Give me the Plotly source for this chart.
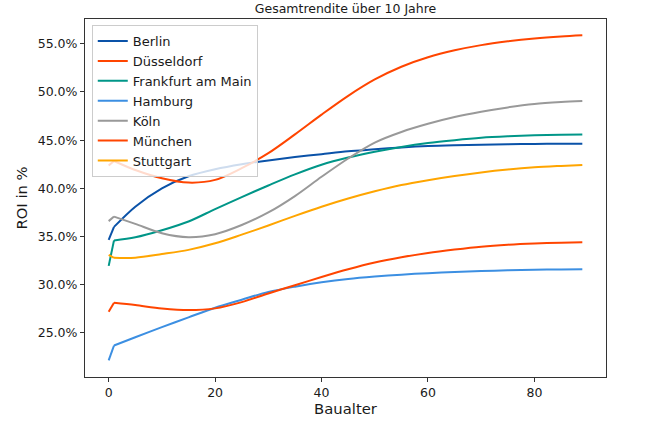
import plotly.graph_objects as go

title = "Gesamtrendite über 10 Jahre"
x_label = "Baualter"
y_label = "ROI in %"

baualter = [0, 1, 5, 10, 15, 20, 25, 30, 35, 40, 45, 50, 55, 60, 65, 70, 75, 80, 85, 89]

cities = ["Berlin", "Düsseldorf", "Frankfurt am Main", "Hamburg", "Köln", "München", "Stuttgart"]

berlin = [34.65, 36.0, 38.1, 40.0, 41.25, 41.98, 42.5, 42.9, 43.25, 43.55, 43.85, 44.05, 44.25, 44.4, 44.48, 44.53, 44.58, 44.61, 44.63, 44.64]
duesseldorf = [42.36, 42.84, 41.9, 41.05, 40.6, 40.88, 42.1, 43.65, 45.6, 47.65, 49.6, 51.3, 52.62, 53.6, 54.32, 54.86, 55.25, 55.55, 55.76, 55.88]
frankfurt = [31.96, 34.6, 34.92, 35.65, 36.56, 37.85, 39.1, 40.3, 41.45, 42.45, 43.2, 43.8, 44.3, 44.7, 45.0, 45.25, 45.4, 45.5, 45.56, 45.6]
hamburg = [22.15, 23.7, 24.55, 25.6, 26.62, 27.62, 28.45, 29.25, 29.8, 30.25, 30.6, 30.85, 31.05, 31.2, 31.32, 31.42, 31.5, 31.55, 31.59, 31.61]
koeln = [36.6, 37.07, 36.32, 35.35, 34.94, 35.25, 36.2, 37.5, 39.2, 41.2, 43.1, 44.75, 45.85, 46.7, 47.4, 47.95, 48.4, 48.75, 48.95, 49.06]
muenchen = [27.2, 28.13, 27.89, 27.54, 27.37, 27.55, 28.2, 29.1, 29.95, 30.8, 31.6, 32.3, 32.85, 33.3, 33.65, 33.95, 34.15, 34.28, 34.36, 34.41]
stuttgart = [33.1, 32.79, 32.8, 33.18, 33.62, 34.3, 35.2, 36.15, 37.15, 38.1, 38.95, 39.7, 40.35, 40.85, 41.28, 41.65, 41.95, 42.18, 42.33, 42.43]

series = [berlin, duesseldorf, frankfurt, hamburg, koeln, muenchen, stuttgart]
colors = ["#0a52a8", "#ff4500", "#009688", "#3c8fe2", "#999999", "#ff4500", "#ffa500"]

y_ticks = [25, 30, 35, 40, 45, 50, 55]
y_tick_labels = [f"{v:.1f}%" for v in y_ticks]
x_ticks = [0, 20, 40, 60, 80]

FONT = "DejaVu Sans"
TXT = "#1a1a1a"

fig = go.Figure()
for name, vals, col in zip(cities, series, colors):
    # first (newly built) step drawn straight, the rest as a smooth curve
    fig.add_trace(go.Scatter(
        x=baualter[:2], y=vals[:2], name=name, mode="lines", legendgroup=name,
        showlegend=False, line=dict(color=col, width=2, shape="linear"),
        hoverinfo="skip",
    ))
    fig.add_trace(go.Scatter(
        x=baualter[1:], y=vals[1:], name=name, mode="lines", legendgroup=name,
        line=dict(color=col, width=2, shape="spline", smoothing=0.9),
        hoverinfo="skip",
    ))

axis_common = dict(
    showgrid=False, zeroline=False, showline=True, mirror=True,
    linecolor="#333333", linewidth=1.1,
    ticks="outside", ticklen=4, tickwidth=1, tickcolor="#333333",
    tickfont=dict(family=FONT, size=12.5, color=TXT),
)

fig.update_layout(
    width=648, height=446,
    margin=dict(l=85, r=42, t=19, b=69),
    paper_bgcolor="white", plot_bgcolor="white",
    font=dict(family=FONT, color=TXT),
    title=dict(text=title, x=(85 + 606) / 2 / 648, xanchor="center",
               y=1 - 9 / 446, yanchor="middle",
               font=dict(family=FONT, size=12.5, color=TXT)),
    xaxis=dict(range=[-4.45, 93.45], tickvals=x_ticks,
               title=dict(text=x_label, font=dict(family=FONT, size=14.8, color=TXT), standoff=1),
               **axis_common),
    yaxis=dict(range=[20.43, 57.57], tickvals=y_ticks, ticktext=y_tick_labels,
               title=dict(text=y_label, font=dict(family=FONT, size=14.8, color=TXT), standoff=6),
               **axis_common),
    legend=dict(x=0.013, y=0.983, xanchor="left", yanchor="top",
                bgcolor="rgba(255,255,255,0.8)", bordercolor="#cccccc", borderwidth=1,
                font=dict(family=FONT, size=13, color=TXT),
                tracegroupgap=0, itemwidth=30),
    showlegend=True,
)

fig.write_html("out.html")
